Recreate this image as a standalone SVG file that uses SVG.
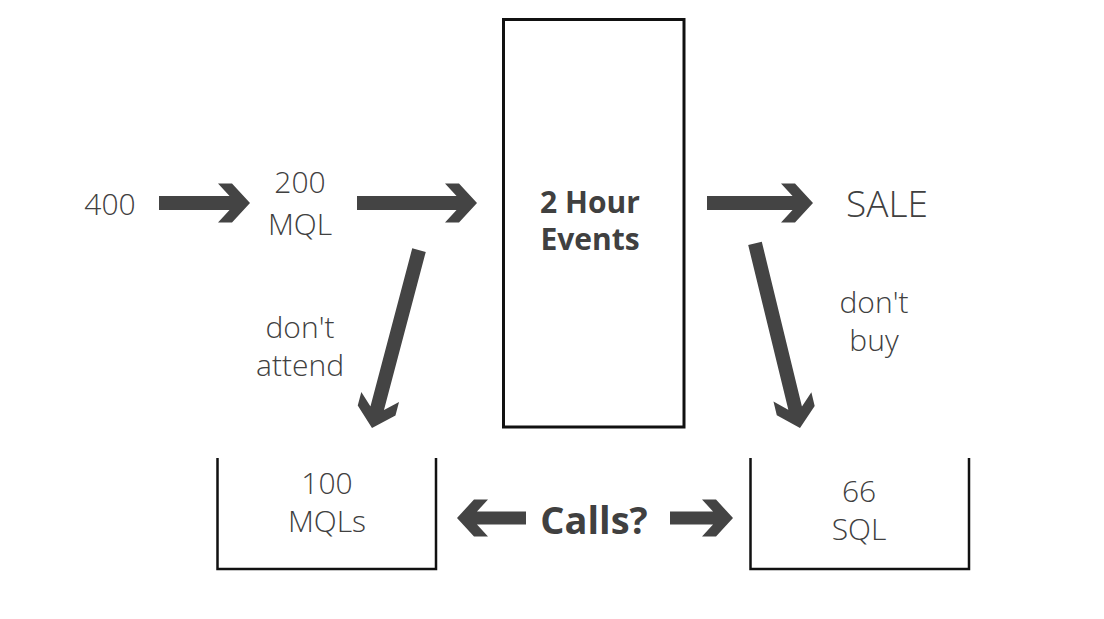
<svg xmlns="http://www.w3.org/2000/svg" width="1104" height="619" viewBox="0 0 1104 619">
<style>
.t{font-family:"Open Sans","DejaVu Sans",sans-serif;fill:#404040;font-weight:300;text-anchor:middle;font-size:30px}
.b{font-family:"Open Sans","DejaVu Sans",sans-serif;fill:#404040;font-weight:700;text-anchor:middle}
.arr{fill:#444444;stroke:none}
.box{fill:none;stroke:#111111;stroke-width:3}
.bin{fill:none;stroke:#111111;stroke-width:2.5}
</style>
<rect width="1104" height="619" fill="#ffffff"/>
<g id="n400"><text class="t" x="110" y="215">400</text></g>
<g id="n200"><text class="t" x="300" y="193">200</text><text class="t" x="300" y="235">MQL</text></g>
<g id="events"><rect class="box" x="503.5" y="19.5" width="180.5" height="407.5"/><text class="b" x="590" y="213" font-size="30">2 Hour</text><text class="b" x="590" y="250" font-size="30">Events</text></g>
<g id="sale"><text class="t" x="887" y="217" style="font-size:37px">SALE</text></g>
<g id="lbl-attend"><text class="t" x="300" y="338">don't</text><text class="t" x="300" y="376">attend</text></g>
<g id="lbl-buy"><text class="t" x="874" y="313">don't</text><text class="t" x="874" y="351">buy</text></g>
<g id="mqls"><path class="bin" d="M217.5 458 V569 H436 V458"/><text class="t" x="327" y="494">100</text><text class="t" x="327" y="532">MQLs</text></g>
<g id="sql"><path class="bin" d="M750.5 458 V569 H969 V458"/><text class="t" x="859" y="502">66</text><text class="t" x="859" y="540">SQL</text></g>
<g id="calls"><text class="b" x="594" y="534" font-size="38">Calls?</text></g>
<g id="connectors">
<path class="arr" transform="translate(250,203)" d="M-91,-7 V7 H-10 V-7 Z M0,0 L-18,-19.5 L-32,-19.5 L-14,0 L-32,19.5 L-18,19.5 Z"/>
<path class="arr" transform="translate(477,203)" d="M-120,-7 V7 H-10 V-7 Z M0,0 L-18,-19.5 L-32,-19.5 L-14,0 L-32,19.5 L-18,19.5 Z"/>
<path class="arr" transform="translate(813,203)" d="M-106,-7 V7 H-10 V-7 Z M0,0 L-18,-19.5 L-32,-19.5 L-14,0 L-32,19.5 L-18,19.5 Z"/>
<path class="arr" transform="translate(800,428) rotate(76.3)" d="M-190,-7 V7 H-10 V-7 Z M0,0 L-18,-19.5 L-32,-19.5 L-14,0 L-32,19.5 L-18,19.5 Z"/>
<path class="arr" transform="translate(372,428) rotate(104.8)" d="M-184,-7 V7 H-10 V-7 Z M0,0 L-18,-19.5 L-32,-19.5 L-14,0 L-32,19.5 L-18,19.5 Z"/>
<path class="arr" transform="translate(457,518) rotate(180)" d="M-69,-6.5 V6.5 H-10 V-6.5 Z M0,0 L-17,-18.5 L-31,-18.5 L-14,0 L-31,18.5 L-17,18.5 Z"/>
<path class="arr" transform="translate(733,518)" d="M-63,-6.5 V6.5 H-10 V-6.5 Z M0,0 L-17,-18.5 L-31,-18.5 L-14,0 L-31,18.5 L-17,18.5 Z"/>
</g>
</svg>
